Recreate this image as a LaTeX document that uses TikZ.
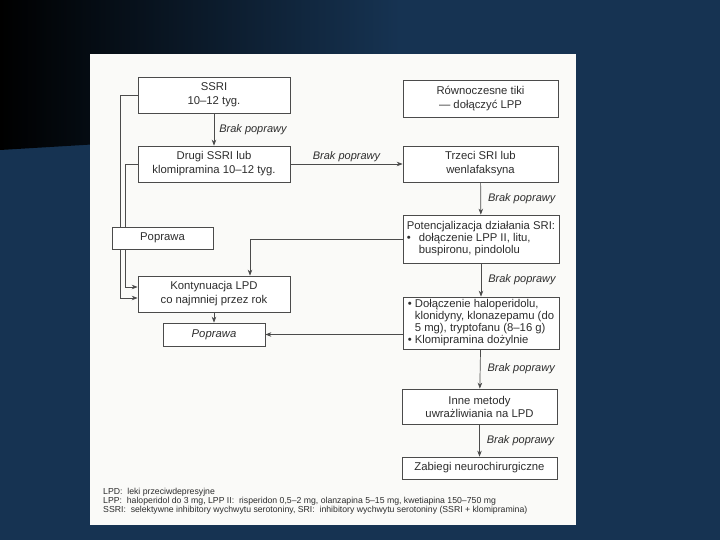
\documentclass[tikz,border=0pt]{standalone}
\usepackage{fontspec}
\setmainfont{Liberation Sans}
\usetikzlibrary{arrows.meta}

\begin{document}
\begin{tikzpicture}[x=1pt, y=-1pt, >={Stealth[length=6pt, width=4.5pt]},
        box/.style={draw=linecol, line width=0.7pt, fill=white, inner sep=4pt, align=center,
                text=textcol, font=\fontsize{11.3}{14}\selectfont},
        conn/.style={->, draw=linecol, line width=0.7pt},
        lbl/.style={text=textcol, inner sep=2pt, font=\fontsize{11}{13}\selectfont\itshape}]
    % Define Colors of the slide
    \definecolor{navy}{RGB}{22, 51, 82}      % slide background
    \definecolor{page}{RGB}{250, 250, 248}   % scanned page
    \definecolor{linecol}{RGB}{75, 75, 75}   % frames and arrows
    \definecolor{textcol}{RGB}{45, 45, 45}   % printed text

    \useasboundingbox (0,0) rectangle (720,540);

    % Background and page
    \fill[navy] (0,0) rectangle (720,540);
    \shade[left color=black, right color=navy] (0,0) -- (400,0) -- (400,126) -- (0,150) -- cycle;
    \fill[page] (90,54) rectangle (576,525);

    % --- LEFT COLUMN ---
    \node[box, minimum width=152pt, minimum height=36pt] (ssri) at (214,95) {SSRI\\10–12 tyg.};
    \node[box, minimum width=152pt, minimum height=36pt] (drugi) at (214,164) {Drugi SSRI lub\\klomipramina 10–12 tyg.};
    \node[box, minimum width=152pt, minimum height=36pt] (konty) at (214,294) {Kontynuacja LPD\\co najmniej przez rok};
    \node[box, minimum width=102pt, minimum height=23pt, font=\fontsize{11.3}{14}\selectfont\itshape] (popr2) at (214,334.5) {Poprawa};

    % --- RIGHT COLUMN ---
    \node[box, minimum width=155pt, minimum height=37pt] (rown) at (480.5,98.5) {Równoczesne tiki\\— dołączyć LPP};
    \node[box, minimum width=155pt, minimum height=36pt] (trzeci) at (480.5,164) {Trzeci SRI lub\\wenlafaksyna};
    \node[box, minimum width=156pt, minimum height=48pt, inner sep=2pt, font=\fontsize{11.3}{12}\selectfont] (potenc) at (481,239) {%
        \begin{tabular}{@{}l@{\hspace{8pt}}l@{}}
            \multicolumn{2}{@{}l@{}}{Potencjalizacja działania SRI:}\\
            • & dołączenie LPP II, litu,\\
              & buspironu, pindololu
        \end{tabular}};
    \node[box, minimum width=156pt, minimum height=52pt, inner sep=2pt, font=\fontsize{11.3}{11.8}\selectfont] (dolacz) at (481,323) {%
        \begin{tabular}{@{}l@{\hspace{3pt}}l@{}}
            • & Dołączenie haloperidolu,\\
              & klonidyny, klonazepamu (do\\
              & 5 mg), tryptofanu (8–16 g)\\
            • & Klomipramina dożylnie
        \end{tabular}};
    \node[box, minimum width=155pt, minimum height=35pt, font=\fontsize{11.3}{13}\selectfont] (inne) at (479.5,406.5) {Inne metody\\uwrażliwiania na LPD};
    \node[box, minimum width=155pt, minimum height=22pt] (zabiegi) at (479.5,468) {Zabiegi neurochirurgiczne};

    % Arrows ("Brak poprawy")
    \draw[conn] (ssri) -- node[lbl, right=3pt] {Brak poprawy} (drugi);
    \draw[conn] (drugi) -- node[lbl, above] {Brak poprawy} (trzeci);
    \draw[conn] (trzeci) -- node[lbl, right=5pt] {Brak poprawy} (potenc);
    \draw[conn] (potenc) -- node[lbl, right=5pt] {Brak poprawy} (dolacz);
    \draw[conn] (dolacz) -- node[lbl, right=5pt] {Brak poprawy} (inne);
    \draw[conn] (inne) -- node[lbl, right=5pt] {Brak poprawy} (zabiegi);

    % Arrows towards improvement
    \draw[conn] (ssri.west) -- ++(-17,0) |- ([yshift=-4pt]konty.west);
    \draw[conn] (drugi.west) -- ++(-12,0) |- ([yshift=7pt]konty.west);
    \draw[conn] (potenc.west) -| ([xshift=36pt]konty.north);
    \draw[conn] (konty) -- (popr2);
    \draw[conn] (dolacz.west |- popr2.east) -- (popr2.east);

    % Poprawa box lies over the two left lines
    \node[box, minimum width=101pt, minimum height=22pt] (popr1) at (162.5,238) {Poprawa};

    % Footnotes
    \node[anchor=north west, align=left, inner sep=0pt, text=textcol, font=\fontsize{8.7}{9.2}\selectfont] (notes) at (103,488) {%
        LPD:\ \ leki przeciwdepresyjne\\
        LPP:\ \ haloperidol do 3 mg, LPP II:\ \ risperidon 0,5–2 mg, olanzapina 5–15 mg, kwetiapina 150–750 mg\\
        SSRI:\ \ selektywne inhibitory wychwytu serotoniny, SRI:\ \ inhibitory wychwytu serotoniny (SSRI + klomipramina)};

\end{tikzpicture}
\end{document}
